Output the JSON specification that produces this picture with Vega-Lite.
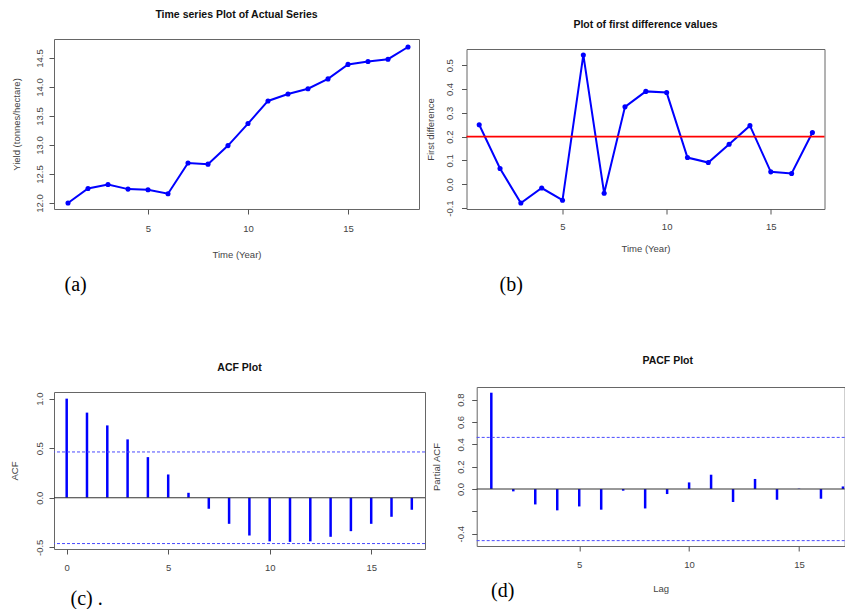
{
  "$schema": "https://vega.github.io/schema/vega-lite/v6.json",
  "padding": {"left": 8, "top": 9, "right": 0, "bottom": 0},
  "background": "white",
  "datasets": {
    "series": [
      {"t": 1, "y": 12.00}, {"t": 2, "y": 12.25}, {"t": 3, "y": 12.32}, {"t": 4, "y": 12.24},
      {"t": 5, "y": 12.23}, {"t": 6, "y": 12.16}, {"t": 7, "y": 12.69}, {"t": 8, "y": 12.67},
      {"t": 9, "y": 12.99}, {"t": 10, "y": 13.37}, {"t": 11, "y": 13.76}, {"t": 12, "y": 13.88},
      {"t": 13, "y": 13.97}, {"t": 14, "y": 14.14}, {"t": 15, "y": 14.39}, {"t": 16, "y": 14.44},
      {"t": 17, "y": 14.48}, {"t": 18, "y": 14.69}
    ],
    "diff": [
      {"t": 1, "d": 0.25}, {"t": 2, "d": 0.066}, {"t": 3, "d": -0.079}, {"t": 4, "d": -0.016},
      {"t": 5, "d": -0.067}, {"t": 6, "d": 0.543}, {"t": 7, "d": -0.038}, {"t": 8, "d": 0.325},
      {"t": 9, "d": 0.39}, {"t": 10, "d": 0.385}, {"t": 11, "d": 0.112}, {"t": 12, "d": 0.091},
      {"t": 13, "d": 0.168}, {"t": 14, "d": 0.246}, {"t": 15, "d": 0.052}, {"t": 16, "d": 0.045},
      {"t": 17, "d": 0.217}
    ],
    "acf": [
      {"lag": 0, "v": 1.0}, {"lag": 1, "v": 0.859}, {"lag": 2, "v": 0.73}, {"lag": 3, "v": 0.589},
      {"lag": 4, "v": 0.41}, {"lag": 5, "v": 0.235}, {"lag": 6, "v": 0.05}, {"lag": 7, "v": -0.111},
      {"lag": 8, "v": -0.263}, {"lag": 9, "v": -0.381}, {"lag": 10, "v": -0.44}, {"lag": 11, "v": -0.445},
      {"lag": 12, "v": -0.44}, {"lag": 13, "v": -0.394}, {"lag": 14, "v": -0.337}, {"lag": 15, "v": -0.263},
      {"lag": 16, "v": -0.192}, {"lag": 17, "v": -0.121}
    ],
    "pacf": [
      {"lag": 1, "v": 0.862}, {"lag": 2, "v": -0.021}, {"lag": 3, "v": -0.138}, {"lag": 4, "v": -0.191},
      {"lag": 5, "v": -0.156}, {"lag": 6, "v": -0.185}, {"lag": 7, "v": -0.015}, {"lag": 8, "v": -0.174},
      {"lag": 9, "v": -0.045}, {"lag": 10, "v": 0.059}, {"lag": 11, "v": 0.128}, {"lag": 12, "v": -0.116},
      {"lag": 13, "v": 0.09}, {"lag": 14, "v": -0.096}, {"lag": 15, "v": 0.003}, {"lag": 16, "v": -0.087},
      {"lag": 17, "v": 0.023}
    ],
    "ci": [{"v": 0.462}, {"v": -0.462}],
    "mean": [{"v": 0.2}],
    "zero": [{"v": 0}]
  },
  "config": {
    "view": {"stroke": "#666", "strokeWidth": 1},
    "axis": {
      "domain": false, "grid": false, "ticks": true, "tickSize": 5, "tickColor": "#555", "labelOverlap": false,
      "labelFont": "Liberation Sans", "labelFontSize": 9.5, "labelColor": "#444",
      "titleFont": "Liberation Sans", "titleFontSize": 9.5, "titleFontWeight": "normal", "titleColor": "#444"
    },
    "axisY": {"labelAngle": 270, "labelAlign": "center", "labelBaseline": "bottom", "tickCount": 12,
      "labelExpr": "replace(format(datum.value, '.1f'), '\u2212', '-')"},
    "title": {"font": "Liberation Sans", "fontSize": 10.5, "fontWeight": "bold", "color": "#111", "frame": "group", "anchor": "middle"}
  },
  "spacing": 60,
  "vconcat": [
    {
      "spacing": 4.5,
      "hconcat": [
        {
          "title": {"text": "(a)", "orient": "bottom", "anchor": "start", "frame": "bounds", "dx": 53.5, "offset": 16, "font": "Liberation Serif", "fontSize": 20, "fontWeight": "normal", "color": "#000"},
          "vconcat": [
            {
              "width": 365, "height": 170,
              "title": {"text": "Time series Plot of Actual Series", "offset": 18.5},
              "data": {"name": "series"},
              "mark": {"type": "line", "color": "blue", "strokeWidth": 2, "point": {"filled": true, "size": 26, "color": "blue"}},
              "encoding": {
                "x": {"field": "t", "type": "quantitative", "scale": {"domain": [0.3, 18.55], "nice": false, "zero": false}, "axis": {"values": [5, 10, 15], "title": "Time (Year)", "labelPadding": 9.5, "titlePadding": 16, "labelOverlap": false}},
                "y": {"field": "y", "type": "quantitative", "scale": {"domain": [11.897, 14.828], "nice": false, "zero": false}, "axis": {"values": [12, 12.5, 13, 13.5, 14, 14.5], "tickCount": 12, "title": "Yield (tonnes/hectare)", "titlePadding": 13, "labelPadding": 4.5, "labelOverlap": false}}
              }
            }
          ]
        },
        {
          "title": {"text": "(b)", "orient": "bottom", "anchor": "start", "frame": "bounds", "dx": 74.5, "offset": 21, "font": "Liberation Serif", "fontSize": 20, "fontWeight": "normal", "color": "#000"},
          "spacing": 8,
          "vconcat": [
            {"width": 358, "height": 1, "view": {"stroke": null}, "title": {"text": "Plot of first difference values", "offset": 8.5}, "data": {"values": []}, "mark": "point"},
            {
              "width": 358, "height": 160,
              "layer": [
                {
                  "data": {"name": "diff"},
                  "mark": {"type": "line", "color": "blue", "strokeWidth": 2, "point": {"filled": true, "size": 26, "color": "blue"}},
                  "encoding": {
                    "x": {"field": "t", "type": "quantitative", "scale": {"domain": [0.39, 17.58], "nice": false, "zero": false}, "axis": {"values": [5, 10, 15], "title": "Time (Year)", "labelPadding": 7, "titlePadding": 13, "labelOverlap": false}},
                    "y": {"field": "d", "type": "quantitative", "scale": {"domain": [-0.104, 0.568], "nice": false, "zero": false}, "axis": {"values": [-0.1, 0, 0.1, 0.2, 0.3, 0.4, 0.5], "tickCount": 12, "title": "First difference", "titlePadding": 9, "labelPadding": 7, "labelOverlap": false}}
                  }
                },
                {
                  "data": {"name": "mean"},
                  "mark": {"type": "rule", "color": "red", "strokeWidth": 1.6},
                  "encoding": {"y": {"field": "v", "type": "quantitative"}}
                }
              ]
            }
          ]
        }
      ]
    },
    {
      "spacing": 4.7,
      "hconcat": [
        {
          "title": {"text": "(c) .", "orient": "bottom", "anchor": "start", "frame": "bounds", "dx": 61.5, "offset": 17, "font": "Liberation Serif", "fontSize": 20, "fontWeight": "normal", "color": "#000"},
          "spacing": 3,
          "vconcat": [
            {"width": 371, "height": 1, "view": {"stroke": null}, "title": {"text": "ACF Plot", "offset": 14}, "data": {"values": []}, "mark": "point"},
            {
              "width": 371, "height": 157,
              "layer": [
                {
                  "data": {"name": "acf"},
                  "mark": {"type": "rule", "color": "blue", "strokeWidth": 2.5},
                  "encoding": {
                    "x": {"field": "lag", "type": "quantitative", "scale": {"domain": [-0.625, 17.65], "nice": false, "zero": false}, "axis": {"values": [0, 5, 10, 15], "title": null, "labelPadding": 8, "labelOverlap": false}},
                    "y": {"field": "v", "type": "quantitative", "scale": {"domain": [-0.517, 1.067], "nice": false, "zero": false}, "axis": {"values": [-0.5, 0, 0.5, 1], "tickCount": 12, "title": "ACF", "titlePadding": 15, "labelPadding": 4.5, "labelOverlap": false}},
                    "y2": {"datum": 0}
                  }
                },
                {
                  "data": {"name": "zero"},
                  "mark": {"type": "rule", "color": "#333", "strokeWidth": 1},
                  "encoding": {"y": {"field": "v", "type": "quantitative"}}
                },
                {
                  "data": {"name": "ci"},
                  "mark": {"type": "rule", "strokeWidth": 1, "strokeDash": [3, 2]},
                  "encoding": {"y": {"field": "v", "type": "quantitative"}, "color": {"value": "#4a4aff"}}
                }
              ]
            }
          ]
        },
        {
          "title": {"text": "(d)", "orient": "bottom", "anchor": "start", "frame": "bounds", "dx": 60.3, "offset": -13, "font": "Liberation Serif", "fontSize": 20, "fontWeight": "normal", "color": "#000"},
          "vconcat": [
            {
              "width": 368, "height": 159,
              "title": {"text": "PACF Plot", "offset": 21, "dx": 7},
              "layer": [
                {
                  "data": {"name": "pacf"},
                  "mark": {"type": "rule", "color": "blue", "strokeWidth": 2.5},
                  "encoding": {
                    "x": {"field": "lag", "type": "quantitative", "scale": {"domain": [0.335, 17.08], "nice": false, "zero": false}, "axis": {"values": [5, 10, 15], "title": "Lag", "labelPadding": 8, "titlePadding": 15, "labelOverlap": false}},
                    "y": {"field": "v", "type": "quantitative", "scale": {"domain": [-0.51, 0.913], "nice": false, "zero": false}, "axis": {"values": [-0.4, -0.2, 0, 0.2, 0.4, 0.6, 0.8], "tickCount": 12, "labelExpr": "datum.value > -0.3 && datum.value < -0.1 ? '' : replace(format(datum.value, '.1f'), '\u2212', '-')", "title": "Partial ACF", "titlePadding": 14.5, "labelPadding": 6, "labelOverlap": false}},
                    "y2": {"datum": 0}
                  }
                },
                {
                  "data": {"name": "zero"},
                  "mark": {"type": "rule", "color": "#333", "strokeWidth": 1},
                  "encoding": {"y": {"field": "v", "type": "quantitative"}}
                },
                {
                  "data": {"name": "ci"},
                  "mark": {"type": "rule", "strokeWidth": 1, "strokeDash": [3, 2]},
                  "encoding": {"y": {"field": "v", "type": "quantitative"}, "color": {"value": "#4a4aff"}}
                }
              ]
            }
          ]
        }
      ]
    }
  ]
}
